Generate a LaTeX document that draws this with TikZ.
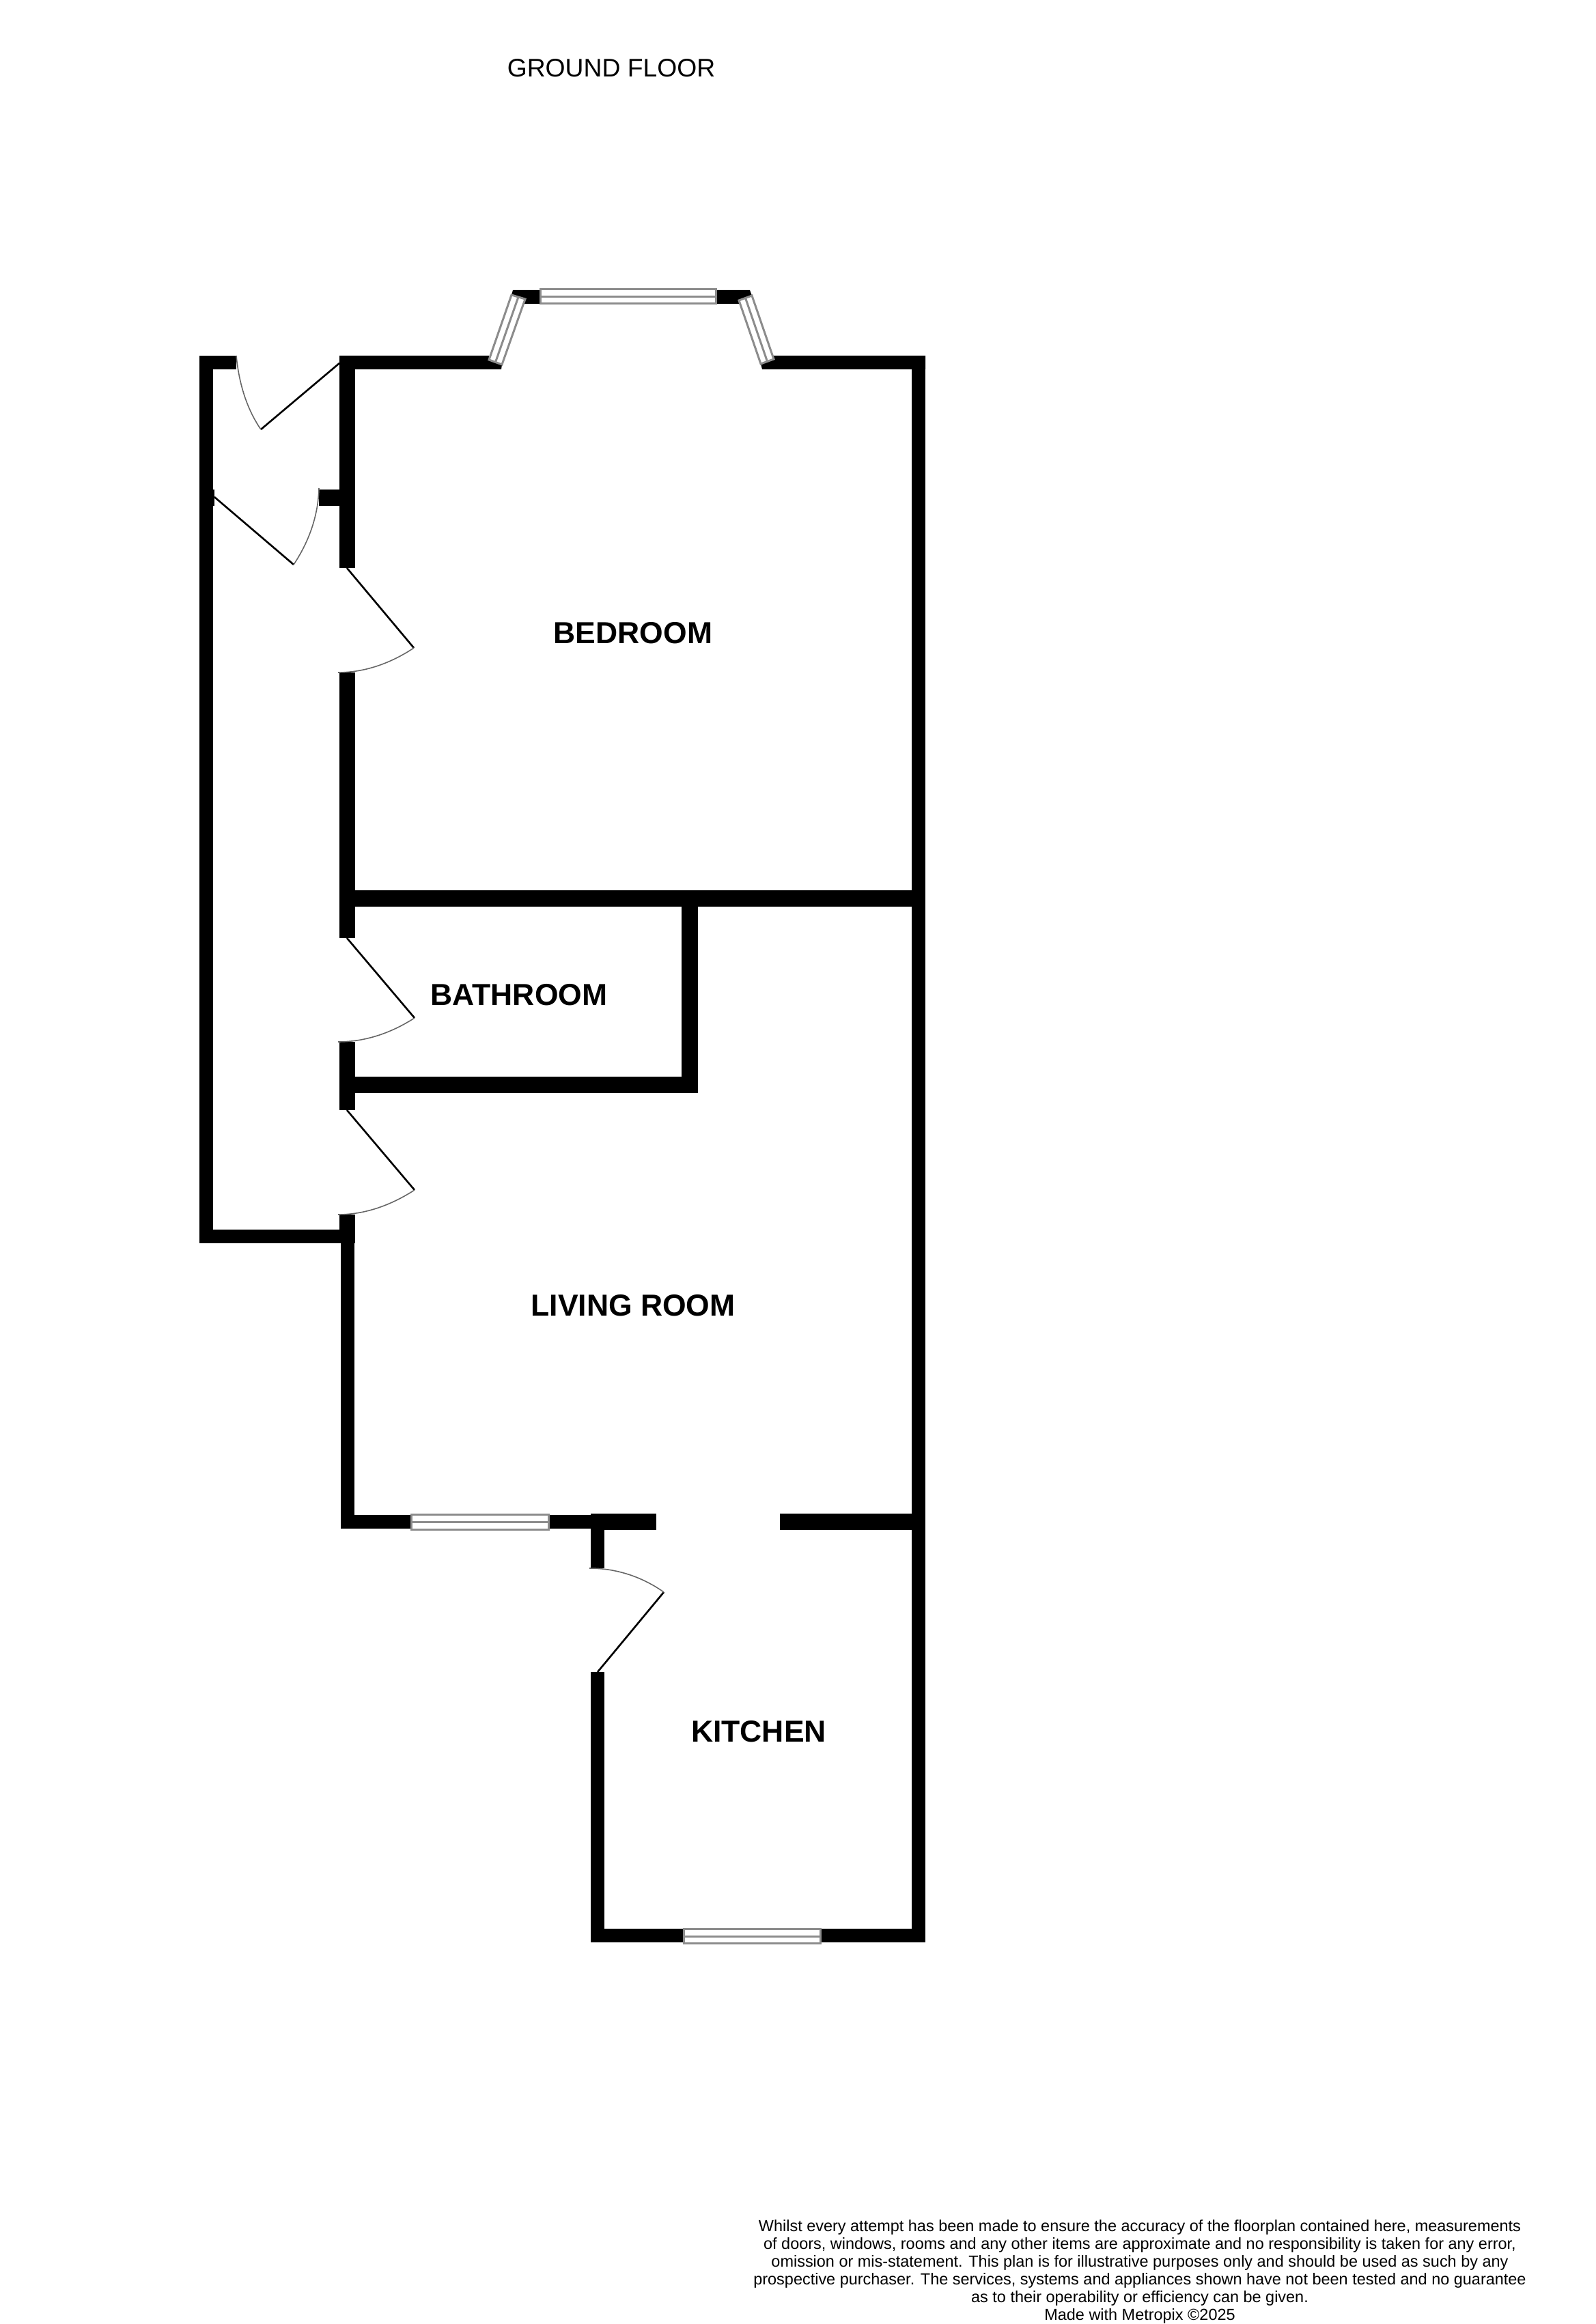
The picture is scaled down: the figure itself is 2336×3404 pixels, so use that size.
\documentclass[tikz,border=0pt]{standalone}
\usepackage{fontspec}
\setmainfont{Liberation Sans}
\begin{document}
\begin{tikzpicture}[x=0.01cm,y=-0.01cm,wall/.style={fill=black,draw=none},leaf/.style={draw=black,line width=0.75pt},swing/.style={draw=black!60,line width=0.45pt},glass/.style={draw=black!45,line width=0.85pt,fill=white},room/.style={font=\bfseries\fontsize{12.65pt}{15pt}\selectfont,inner sep=0pt},title/.style={font=\fontsize{10.6pt}{13pt}\selectfont,inner sep=0pt},note/.style={font=\fontsize{6.67pt}{7.4pt}\selectfont,align=center,inner sep=0pt}]

				\useasboundingbox (0,0) rectangle (2336,3404);

				\node[title] (groundfloor) at (895,100) {GROUND FLOOR};
				\node[room] (bedroom) at (927,927) {BEDROOM};
				\node[room] (bathroom) at (760,1457) {BATHROOM};
				\node[room] (livingroom) at (927,1912) {LIVING ROOM};
				\node[room] (kitchen) at (1111,2536) {KITCHEN};
				\node[note] (disclaimer) at (1669,3327) {Whilst every attempt has been made to ensure the accuracy of the floorplan contained here, measurements\\of doors, windows, rooms and any other items are approximate and no responsibility is taken for any error,\\omission or mis-statement. This plan is for illustrative purposes only and should be used as such by any\\prospective purchaser. The services, systems and appliances shown have not been tested and no guarantee\\as to their operability or efficiency can be given.\\Made with Metropix ©2025};

				\fill[wall] (292,521) rectangle (346,541);
				\fill[wall] (292,521) rectangle (312,1821);
				\fill[wall] (292,717) rectangle (314,741);
				\fill[wall] (292,1801) rectangle (519,1821);
				\fill[wall] (467,717) rectangle (497,741);
				\fill[wall] (497,521) rectangle (520,832);
				\fill[wall] (497,985) rectangle (520,1374);
				\fill[wall] (497,1526) rectangle (520,1626);
				\fill[wall] (497,1779) rectangle (520,1821);
				\fill[wall] (499,1821) rectangle (519,2239);
				\fill[wall] (497,521) -- (716,521) -- (716,528) -- (735,534) -- (734,541) -- (497,541) -- cycle;
				\fill[wall] (1355,521) -- (1132,521) -- (1133,526) -- (1114,533) -- (1116,541) -- (1355,541) -- cycle;
				\fill[wall] (751,425) -- (791,425) -- (791,445) -- (767,445) -- (769,438) -- (749,432) -- cycle;
				\fill[wall] (1048,425) -- (1098,425) -- (1101,433) -- (1082,440) -- (1084,445) -- (1048,445) -- cycle;
				\fill[wall] (1335,521) rectangle (1355,2845);
				\fill[wall] (497,1304) rectangle (1355,1328);
				\fill[wall] (998,1304) rectangle (1022,1601);
				\fill[wall] (497,1577) rectangle (1022,1601);
				\fill[wall] (499,2219) rectangle (865,2239);
				\fill[wall] (865,2217) rectangle (961,2241);
				\fill[wall] (1142,2217) rectangle (1355,2241);
				\fill[wall] (865,2217) rectangle (885,2297);
				\fill[wall] (865,2449) rectangle (885,2845);
				\fill[wall] (865,2825) rectangle (1355,2845);

				\draw[glass] (791,424) rectangle (1048,445);
				\draw[glass] (791,435) -- (1048,435);
				\draw[glass] (716,527) -- (749,432) -- (769,438) -- (735,534) -- cycle;
				\draw[glass] (725.5,530.5) -- (759,435);
				\draw[glass] (1082,440) -- (1101,433) -- (1133,526) -- (1114,533) -- cycle;
				\draw[glass] (1091.5,436.5) -- (1123.5,529.5);
				\draw[glass] (602,2218) rectangle (803,2240);
				\draw[glass] (602,2229) -- (803,2229);
				\draw[glass] (1001,2825) rectangle (1201,2846);
				\draw[glass] (1001,2836) -- (1201,2836);

				\coordinate (hingeA) at (497,532);
				\coordinate (tipA) at (382,629);
				\coordinate (hingeB) at (314,728);
				\coordinate (tipB) at (430,827);
				\coordinate (hingeC) at (508,832);
				\coordinate (tipC) at (606,949);
				\coordinate (hingeD) at (508,1374);
				\coordinate (tipD) at (607,1491);
				\coordinate (hingeE) at (508,1626);
				\coordinate (tipE) at (607,1743);
				\coordinate (hingeF) at (875,2449);
				\coordinate (tipF) at (972,2332);

				\path[leaf]
				(hingeA) edge (tipA)
				(hingeB) edge (tipB)
				(hingeC) edge (tipC)
				(hingeD) edge (tipD)
				(hingeE) edge (tipE)
				(hingeF) edge (tipF);

				\draw[swing] (346,521) .. controls (350,563) and (362,600) .. (tipA);
				\draw[swing] (467,715) .. controls (466,756) and (452,794) .. (tipB);
				\draw[swing] (495,985) .. controls (535,985) and (573,971) .. (tipC);
				\draw[swing] (495,1526) .. controls (535,1526) and (573,1513) .. (tipD);
				\draw[swing] (495,1779) .. controls (535,1779) and (573,1765) .. (tipE);
				\draw[swing] (863,2297) .. controls (903,2297) and (941,2310) .. (tipF);

			\end{tikzpicture}
\end{document}
